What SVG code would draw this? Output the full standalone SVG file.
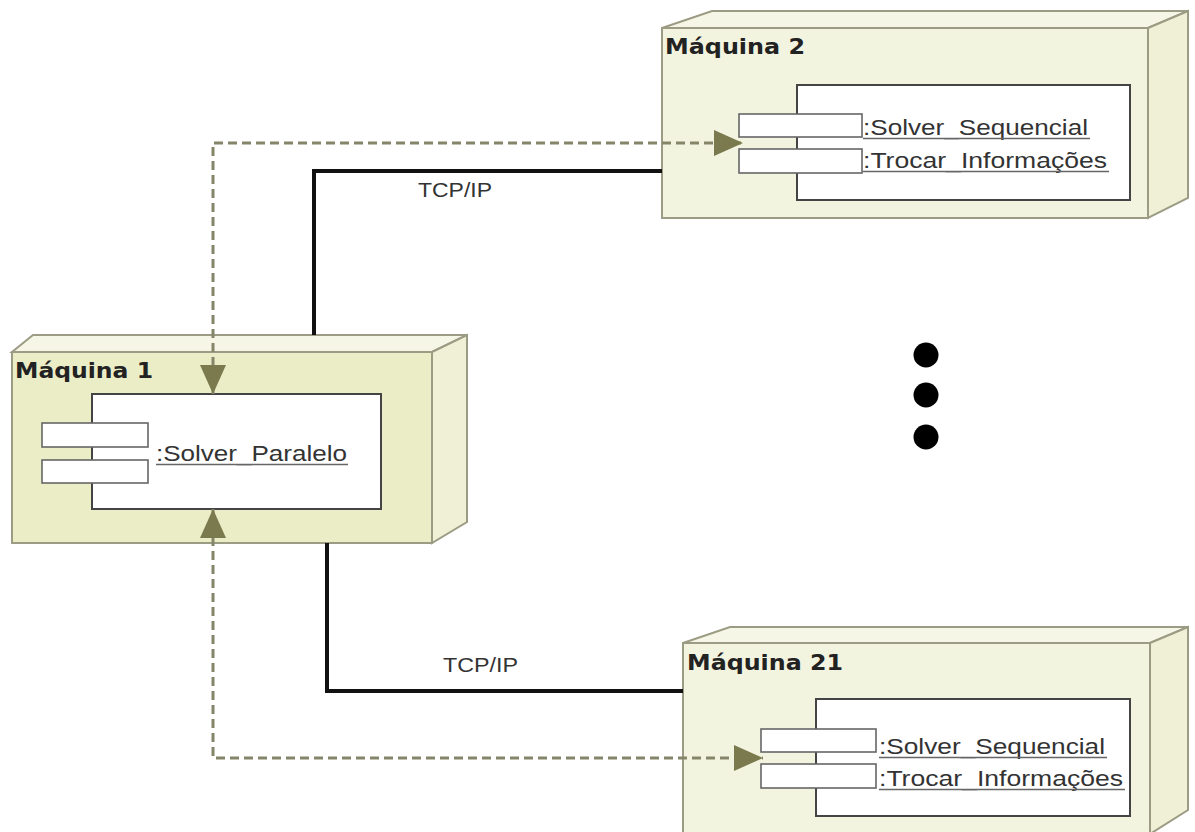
<svg xmlns="http://www.w3.org/2000/svg" width="1195" height="832" viewBox="0 0 1195 832">
<style>
.front{fill:#f3f4df;stroke:#9c9c84;stroke-width:2}
.front1{fill:#ebedc6;stroke:#9c9c84;stroke-width:2}
.top{fill:#f6f6e6;stroke:#9c9c84;stroke-width:2}
.side{fill:#eff0d6;stroke:#9c9c84;stroke-width:2}
.comp{fill:#fff;stroke:#444;stroke-width:2}
.port{fill:#fff;stroke:#666;stroke-width:1.6}
.ntitle{font-family:"DejaVu Sans",Verdana,sans-serif;font-weight:bold;font-size:21px;fill:#222}
.lbl{font-family:"Liberation Sans",Arial,sans-serif;font-size:22px;fill:#333}
.ul{stroke:#666;stroke-width:1.5}
.tcp{fill:none;stroke:#111;stroke-width:4}
.dep{fill:none;stroke:#85856a;stroke-width:3;stroke-dasharray:9 5}
.conn-lbl{font-family:"Liberation Sans",Arial,sans-serif;font-size:21px;fill:#333}
</style>
<defs>
<marker id="arr" viewBox="0 0 29 26" markerWidth="29" markerHeight="26" markerUnits="userSpaceOnUse" refX="29" refY="13" orient="auto-start-reverse">
<path d="M0,0 L29,13 L0,26 z" fill="#7a7a4e"/>
</marker>
</defs>
<rect width="1195" height="832" fill="#fff"/>

<g id="maquina2">
<polygon class="top" points="662,28 712,11 1188,11 1148,28"/>
<polygon class="side" points="1148,28 1188,11 1188,198 1148,218"/>
<rect class="front" x="662" y="28" width="486" height="190"/>
<text class="ntitle" x="665" y="54" textLength="140" lengthAdjust="spacingAndGlyphs">Máquina 2</text>
<rect class="comp" x="797" y="85" width="333" height="115"/>
<rect class="port" x="739" y="114" width="123" height="23"/>
<rect class="port" x="739" y="149" width="123" height="24"/>
<text class="lbl" x="863" y="135" textLength="225" lengthAdjust="spacingAndGlyphs">:Solver_Sequencial</text>
<line class="ul" x1="863" y1="138.5" x2="1090" y2="138.5"/>
<text class="lbl" x="863" y="168" textLength="244" lengthAdjust="spacingAndGlyphs">:Trocar_Informações</text>
<line class="ul" x1="863" y1="171.5" x2="1109" y2="171.5"/>
</g>

<g id="maquina1">
<polygon class="top" points="12,352 33,335 467,335 432,352"/>
<polygon class="side" points="432,352 467,335 467,522 432,543"/>
<rect class="front1" x="12" y="352" width="420" height="191"/>
<text class="ntitle" x="15" y="378" textLength="138" lengthAdjust="spacingAndGlyphs">Máquina 1</text>
<rect class="comp" x="92" y="394" width="289" height="115"/>
<rect class="port" x="42" y="423" width="106" height="24"/>
<rect class="port" x="42" y="460" width="106" height="23"/>
<text class="lbl" x="156" y="461" textLength="191" lengthAdjust="spacingAndGlyphs">:Solver_Paralelo</text>
<line class="ul" x1="156" y1="464.5" x2="348" y2="464.5"/>
</g>

<g id="maquina21">
<polygon class="top" points="683,643 730,627 1188,627 1150,643"/>
<polygon class="side" points="1150,643 1188,627 1188,810 1150,834"/>
<rect class="front" x="683" y="643" width="467" height="195"/>
<text class="ntitle" x="687" y="670" textLength="156" lengthAdjust="spacingAndGlyphs">Máquina 21</text>
<rect class="comp" x="816" y="699" width="314" height="117"/>
<rect class="port" x="761" y="729" width="115" height="23"/>
<rect class="port" x="761" y="764" width="115" height="24"/>
<text class="lbl" x="879" y="754" textLength="226" lengthAdjust="spacingAndGlyphs">:Solver_Sequencial</text>
<line class="ul" x1="879" y1="757.5" x2="1107" y2="757.5"/>
<text class="lbl" x="879" y="786" textLength="244" lengthAdjust="spacingAndGlyphs">:Trocar_Informações</text>
<line class="ul" x1="879" y1="789.5" x2="1125" y2="789.5"/>
</g>

<g id="connectors">
<path class="tcp" d="M314,335 V171 H662"/>
<text class="conn-lbl" x="418" y="197" textLength="74" lengthAdjust="spacingAndGlyphs">TCP/IP</text>
<path class="tcp" d="M327,543 V691 H683"/>
<text class="conn-lbl" x="443" y="672" textLength="75" lengthAdjust="spacingAndGlyphs">TCP/IP</text>
<path class="dep" d="M213,394 V143 H743" marker-start="url(#arr)" marker-end="url(#arr)"/>
<path class="dep" d="M213,509 V758 H763" marker-start="url(#arr)" marker-end="url(#arr)"/>
</g>

<g id="ellipsis">
<circle cx="926" cy="355" r="12.5" fill="#000"/>
<circle cx="926" cy="395" r="12.5" fill="#000"/>
<circle cx="926" cy="437" r="12.5" fill="#000"/>
</g>
</svg>
